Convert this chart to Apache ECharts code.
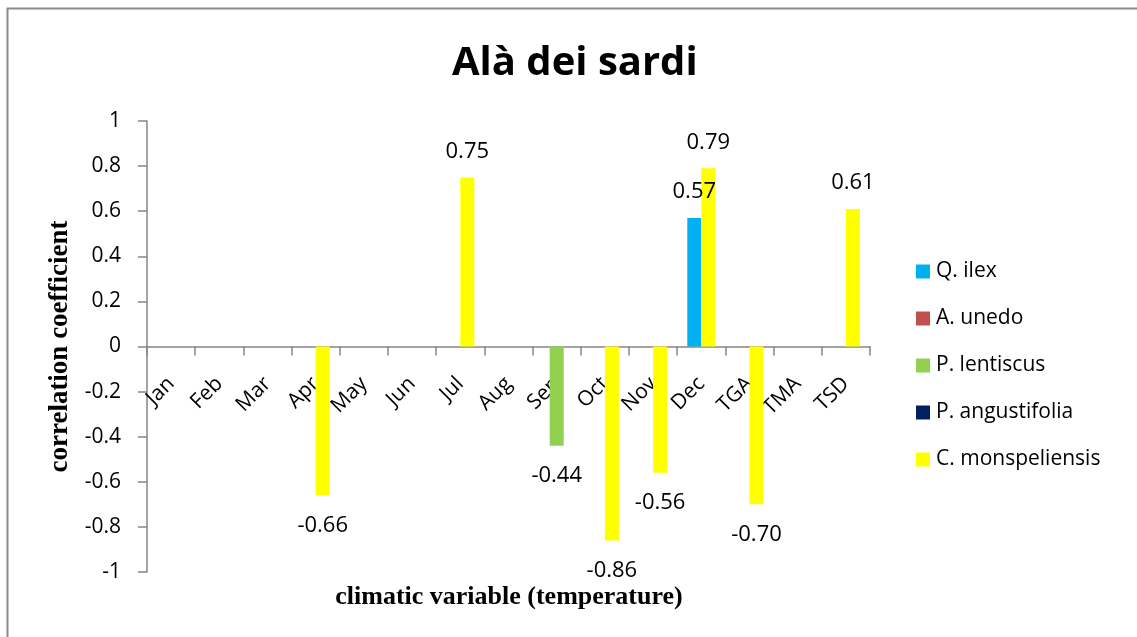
<!DOCTYPE html>
<html>
<head>
<meta charset="utf-8">
<script src="https://cdn.jsdelivr.net/npm/echarts@6/dist/echarts.min.js"></script>
<style>
  html, body { margin: 0; padding: 0; background: #ffffff; }
  #chart { width: 1137px; height: 637px; }
</style>
</head>
<body>
<div id="chart"></div>
<script>
// Climatic variables (monthly temperatures and seasonal indices)
const categories = ['Jan', 'Feb', 'Mar', 'Apr', 'May', 'Jun', 'Jul', 'Aug', 'Sep', 'Oct', 'Nov', 'Dec', 'TGA', 'TMA', 'TSD'];

// Correlation coefficients per species (null = not significant)
const qIlex          = [null, null, null, null, null, null, null, null, null, null, null, 0.57, null, null, null];
const aUnedo         = [null, null, null, null, null, null, null, null, null, null, null, null, null, null, null];
const pLentiscus     = [null, null, null, null, null, null, null, null, -0.44, null, null, null, null, null, null];
const pAngustifolia  = [null, null, null, null, null, null, null, null, null, null, null, null, null, null, null];
const cMonspeliensis = [null, null, null, -0.66, null, null, 0.75, null, null, -0.86, -0.56, 0.79, -0.70, null, 0.61];

const seriesNames  = ['Q. ilex', 'A. unedo', 'P. lentiscus', 'P. angustifolia', 'C. monspeliensis'];
const seriesValues = [qIlex, aUnedo, pLentiscus, pAngustifolia, cMonspeliensis];
const seriesColors = ['#00B0F0', '#C0504D', '#92D050', '#002060', '#FFFF00'];

const FONT = '"Open Sans", "Noto Sans", sans-serif';
const SERIF = '"Liberation Serif", "DejaVu Serif", serif';

// Plot area
const GRID = { left: 147, right: 267, top: 121, bottom: 65 };
const PLOT_H = 637 - GRID.top - GRID.bottom;

function barData(values) {
  return values.map(function (v) {
    if (v === null) return null;
    return {
      value: v,
      label: {
        show: true,
        position: v < 0 ? 'bottom' : 'top',
        distance: v < 0 ? 19 : 15
      }
    };
  });
}

const chart = echarts.init(document.getElementById('chart'), null, { renderer: 'canvas' });

chart.setOption({
  animation: false,
  backgroundColor: '#ffffff',
  title: {
    text: 'Alà dei sardi',
    left: 447,
    top: 39,
    textStyle: { fontFamily: FONT, fontWeight: 'bold', fontSize: 40, color: '#000000' }
  },
  graphic: [{
    type: 'rect',
    shape: { x: 7.5, y: 8.5, width: 1200, height: 700 },
    style: { fill: 'none', stroke: '#8a8a8a', lineWidth: 2 },
    silent: true
  }, {
    type: 'text',
    x: 509,
    y: 597,
    style: {
      text: 'climatic variable (temperature)',
      align: 'center',
      verticalAlign: 'middle',
      fontFamily: SERIF, fontWeight: 'bold', fontSize: 26, fill: '#000000'
    },
    silent: true
  }],
  legend: {
    orient: 'vertical',
    left: 911,
    top: 256,
    itemWidth: 14,
    itemHeight: 14,
    itemGap: 26,
    icon: 'rect',
    data: seriesNames,
    textStyle: { fontFamily: FONT, fontSize: 21, color: '#000000', padding: [0, 0, 0, 1] }
  },
  grid: { left: GRID.left, right: GRID.right, top: GRID.top, bottom: GRID.bottom, containLabel: false, outerBoundsMode: 'none' },
  xAxis: {
    type: 'category',
    data: categories,
    boundaryGap: true,
    // category axis drawn along the zero line (middle of the -1..1 range)
    offset: -PLOT_H / 2,
    axisLine: { onZero: false, lineStyle: { color: '#868686', width: 1.5 } },
    axisTick: { show: true, alignWithLabel: false, length: 9, lineStyle: { color: '#868686', width: 1.5 } },
    axisLabel: {
      rotate: 45,
      margin: 34,
      interval: 0,
      fontFamily: FONT,
      fontSize: 21,
      color: '#000000'
    },
    splitLine: { show: false }
  },
  yAxis: {
    type: 'value',
    min: -1,
    max: 1,
    interval: 0.2,
    name: 'correlation coefficient',
    nameLocation: 'middle',
    nameGap: 72,
    nameRotate: 90,
    nameTextStyle: { fontFamily: SERIF, fontWeight: 'bold', fontSize: 27, color: '#000000' },
    axisLine: { show: true, lineStyle: { color: '#868686', width: 1.5 } },
    axisTick: { show: true, length: 9, lineStyle: { color: '#868686', width: 1.5 } },
    axisLabel: {
      margin: 26,
      fontFamily: FONT,
      fontSize: 21,
      color: '#000000',
      formatter: function (v) { return String(+v.toFixed(1)); }
    },
    splitLine: { show: false }
  },
  series: seriesNames.map(function (name, i) {
    return {
      name: name,
      type: 'bar',
      data: barData(seriesValues[i]),
      barWidth: 14,
      barGap: '-75%',
      itemStyle: { color: seriesColors[i] },
      label: {
        fontFamily: FONT,
        fontSize: 22,
        color: '#000000',
        formatter: function (p) { return p.value.toFixed(2); }
      }
    };
  })
});
</script>
</body>
</html>
